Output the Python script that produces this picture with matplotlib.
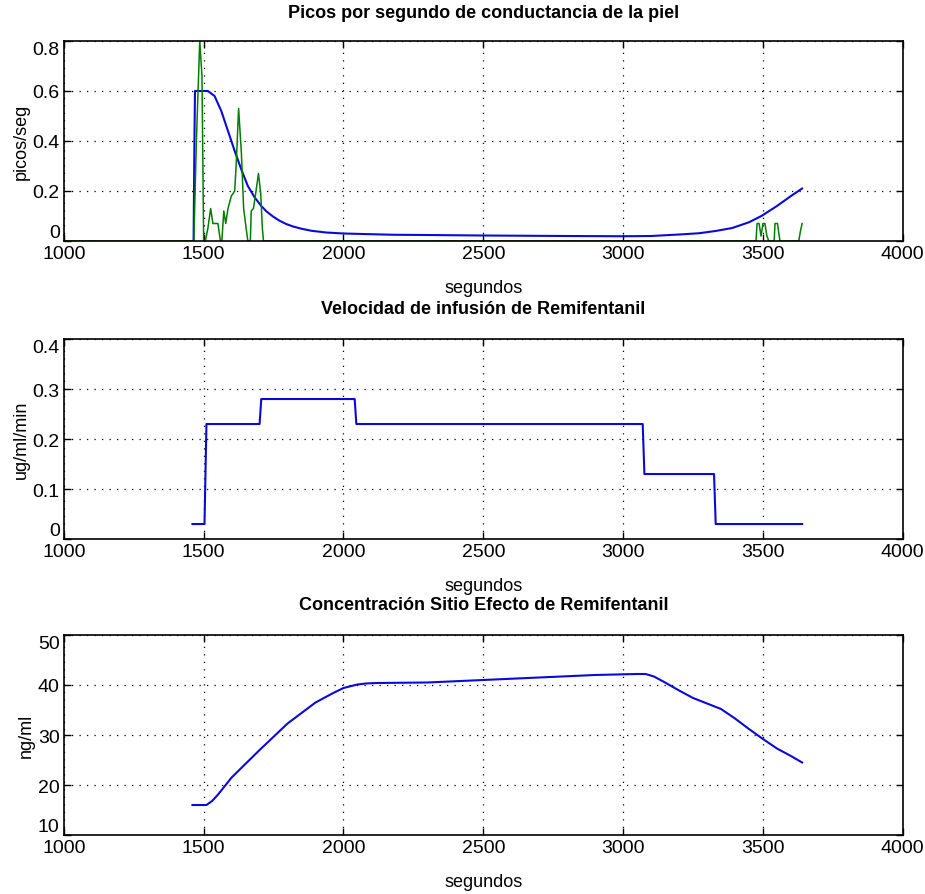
import numpy as np
import matplotlib
matplotlib.use("Agg")
import matplotlib.pyplot as plt

plt.rcParams['font.family'] = ['Liberation Sans', 'DejaVu Sans']

# Top panel: peaks per second of skin conductance
blue_t = [1460, 1464, 1467, 1469, 1500, 1515, 1539, 1563, 1587, 1611, 1635, 1658,
          1682, 1706, 1725, 1748, 1770, 1795, 1820, 1850, 1885, 1938, 2000, 2176, 2300,
          2500, 2800, 3000, 3100, 3200, 3271, 3330, 3390, 3450, 3496, 3550, 3600, 3640]
blue_v = [0.0, 0.0, 0.4, 0.6, 0.6, 0.6, 0.58, 0.52, 0.44, 0.36, 0.285, 0.22,
          0.175, 0.14, 0.118, 0.098, 0.082, 0.068, 0.058, 0.049, 0.041, 0.034, 0.03,
          0.025, 0.024, 0.022, 0.02, 0.019, 0.02, 0.026, 0.031, 0.04, 0.052, 0.075,
          0.101, 0.14, 0.18, 0.21]
green_t = [1000, 1465, 1474, 1486, 1494, 1500, 1506, 1515, 1525, 1533, 1551, 1560,
           1565, 1572, 1579, 1587, 1599, 1611, 1617, 1625, 1635, 1643, 1652, 1658,
           1667, 1670, 1678, 1686, 1696, 1704, 1710, 1714, 3475, 3479, 3486,
           3493, 3500, 3507, 3514, 3521, 3540, 3543, 3552, 3558, 3561, 3628, 3634,
           3640]
green_v = [0, 0, 0.4, 0.8, 0.66, 0, 0, 0.05, 0.13, 0.07, 0.07, 0,
           0, 0.12, 0.07, 0.13, 0.18, 0.2, 0.32, 0.53, 0.35, 0.13, 0.05, 0,
           0, 0.12, 0.13, 0.19, 0.27, 0.19, 0.05, 0, 0, 0.07, 0.07,
           0.02, 0.07, 0.07, 0.02, 0, 0, 0.07, 0.07, 0.02, 0, 0, 0.04,
           0.07]

# Middle panel: Remifentanil infusion rate
inf_t = [1460, 1503, 1510, 1700, 1706, 2040, 2046, 3070, 3076, 3325, 3331, 3640]
inf_v = [0.03, 0.03, 0.23, 0.23, 0.28, 0.28, 0.23, 0.23, 0.13, 0.13, 0.03, 0.03]

# Bottom panel: effect-site concentration
conc_t = [1460, 1510, 1530, 1550, 1600, 1700, 1800, 1900, 1960, 2000, 2050, 2080, 2120,
          2300, 2500, 2700, 2900, 3050, 3080, 3110, 3150, 3200, 3250, 3300, 3350,
          3400, 3450, 3500, 3550, 3600, 3640]
conc_v = [16, 16, 16.8, 18, 21.5, 27, 32.3, 36.5, 38.3, 39.4, 40.1, 40.3, 40.4,
          40.5, 41, 41.5, 42, 42.2, 42.2, 41.7, 40.5, 38.9, 37.4, 36.3, 35.2,
          33.3, 31.2, 29.2, 27.3, 25.8, 24.5]

fig = plt.figure(figsize=(9.25, 8.95), dpi=100)
left, width, height = 0.069, 0.907, 0.2235
bottoms = [0.7296, 0.3966, 0.0659]
axes = [fig.add_axes([left, b, width, height]) for b in bottoms]

fs = 14
tfs = 13
blue = "#0a0ad8"
axes[0].plot(blue_t, blue_v, color=blue, lw=1.5)
axes[0].plot(green_t, green_v, color="#007f00", lw=1.1)
axes[0].set_ylim(0, 0.8)
axes[0].set_yticks([0, 0.2, 0.4, 0.6, 0.8])
axes[0].set_yticklabels(["0", "0.2", "0.4", "0.6", "0.8"])
axes[0].set_ylabel("picos/seg", fontsize=13, labelpad=2)
axes[0].set_title("Picos por segundo de conductancia de la piel", fontsize=tfs,
                  fontweight="bold", pad=17)

axes[1].plot(inf_t, inf_v, color=blue, lw=1.5)
axes[1].set_ylim(0, 0.4)
axes[1].set_yticks([0, 0.1, 0.2, 0.3, 0.4])
axes[1].set_yticklabels(["0", "0.1", "0.2", "0.3", "0.4"])
axes[1].set_ylabel("ug/ml/min", fontsize=13, labelpad=2)
axes[1].set_title("Velocidad de infusión de Remifentanil", fontsize=tfs,
                  fontweight="bold", pad=19)

axes[2].plot(conc_t, conc_v, color=blue, lw=1.5)
axes[2].set_ylim(10, 50)
axes[2].set_yticks([10, 20, 30, 40, 50])
axes[2].set_ylabel("ng/ml", fontsize=13, labelpad=2)
axes[2].set_title("Concentración Sitio Efecto de Remifentanil", fontsize=tfs,
                  fontweight="bold", pad=19)

for ax in axes:
    ax.set_xlim(1000, 4000)
    ax.set_xticks([1000, 1500, 2000, 2500, 3000, 3500, 4000])
    ax.set_xlabel("segundos", fontsize=13, labelpad=12)
    ax.grid(True, color="black", linestyle=(0, (1, 5)), linewidth=0.9)
    ax.tick_params(direction="in", top=True, right=True, length=5, width=1,
                   labelsize=fs, pad=3)
    for s in ax.spines.values():
        s.set_linewidth(1.2)
    # MATLAB-style: end labels pulled inside the axis range
    ylabels = ax.get_yticklabels()
    ylabels[0].set_verticalalignment("bottom")
    ylabels[-1].set_verticalalignment("top")

fig.savefig("out.png", dpi=100)
